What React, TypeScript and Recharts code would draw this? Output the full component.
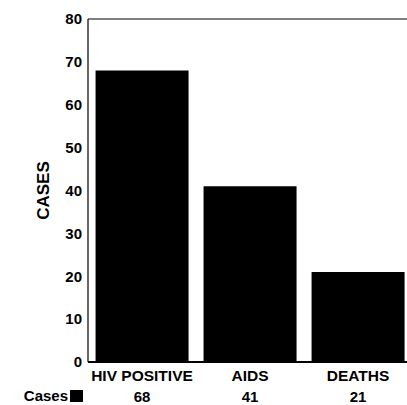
import React from 'react';
import { BarChart, Bar, XAxis, YAxis, ReferenceLine, Legend } from 'recharts';

const categories = ['HIV POSITIVE', 'AIDS', 'DEATHS'];
const cases = [68, 41, 21];
const yTicks = [0, 10, 20, 30, 40, 50, 60, 70, 80];
const seriesName = 'Cases';

const data = categories.map((c, i) => ({ category: c, cases: cases[i] }));

const FONT = '"Liberation Sans", Arial, Helvetica, sans-serif';

const XTick = (props: any) => {
  const { x, y, payload, index } = props;
  return (
    <g>
      <text x={x} y={y + 19} textAnchor="middle" fontFamily={FONT} fontWeight="bold" fontSize={15.5} fill="#000">
        {payload.value}
      </text>
      <text x={x} y={y + 40} textAnchor="middle" fontFamily={FONT} fontWeight="bold" fontSize={15} fill="#000">
        {cases[index]}
      </text>
    </g>
  );
};

const LegendContent = (props: any) => {
  const item = props.payload && props.payload[0];
  return (
    <div style={{ display: 'flex', alignItems: 'center', justifyContent: 'flex-end', fontFamily: FONT, fontWeight: 'bold', fontSize: 15, color: '#000', lineHeight: '15px' }}>
      <span>{item ? item.value : seriesName}</span>
      <span style={{ display: 'inline-block', width: 13, height: 12, background: '#000', marginLeft: 2 }} />
    </div>
  );
};

export default function App() {
  return (
    <div style={{ position: 'absolute', left: 0, top: 0, width: 407, height: 405, overflow: 'hidden', background: '#fff' }}>
      <BarChart width={412} height={405} data={data} margin={{ top: 19, right: 0, bottom: 0, left: 0 }} barCategoryGap="7%">
        <YAxis
          type="number"
          domain={[0, 80]}
          ticks={yTicks}
          interval={0}
          width={88}
          axisLine={{ stroke: '#000', strokeWidth: 1.2 }}
          tickLine={false}
          tickSize={0}
          tickMargin={6}
          tick={{ fill: '#000', fontFamily: FONT, fontWeight: 'bold', fontSize: 15 }}
          label={{ value: 'CASES', angle: -90, position: 'insideLeft', offset: 43, style: { textAnchor: 'middle', fontFamily: FONT, fontWeight: 'bold', fontSize: 17, fill: '#000' } }}
        />
        <XAxis
          dataKey="category"
          height={43}
          axisLine={{ stroke: '#000', strokeWidth: 2 }}
          tickLine={false}
          tickSize={0}
          tickMargin={0}
          interval={0}
          tick={<XTick />}
        />
        <ReferenceLine y={80} stroke="#000" strokeWidth={1.2} />
        <Legend
          layout="horizontal"
          verticalAlign="middle"
          content={<LegendContent />}
          wrapperStyle={{ position: 'absolute', left: 0, top: 388, width: 83, height: 15 }}
        />
        <Bar dataKey="cases" name={seriesName} fill="#000" isAnimationActive={false} />
      </BarChart>
    </div>
  );
}
